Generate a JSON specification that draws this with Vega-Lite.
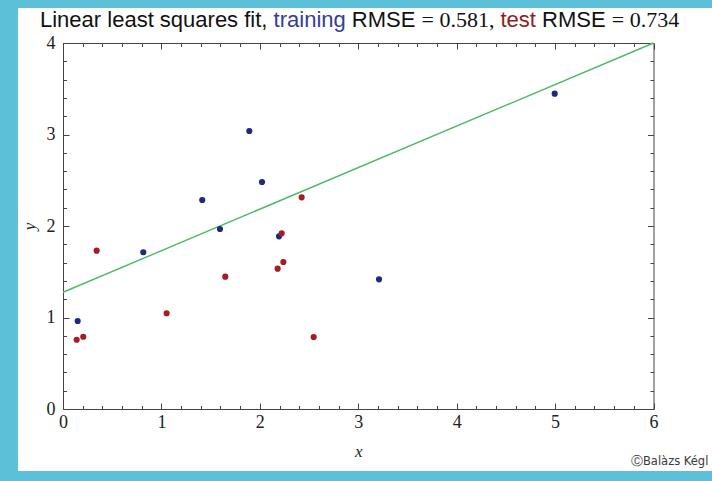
{
  "$schema": "https://vega.github.io/schema/vega-lite/v6.json",
  "width": 694,
  "height": 463,
  "autosize": {"type": "none"},
  "padding": {"left": 18, "top": 8, "right": 0, "bottom": 10},
  "background": "#5cc0d8",
  "config": {
    "view": {"fill": "white", "stroke": null},
    "axis": {
      "grid": false,
      "domainColor": "#444",
      "tickColor": "#444",
      "domainWidth": 1,
      "tickWidth": 1,
      "labelColor": "#222",
      "labelFont": "Liberation Serif",
      "labelFontSize": 18,
      "titleFont": "Liberation Serif",
      "titleFontStyle": "italic",
      "titleFontWeight": "normal",
      "titleFontSize": 17,
      "titleColor": "#222",
      "labelOverlap": false,
      "labelFlush": false
    }
  },
  "resolve": {"axis": {"x": "independent", "y": "independent"}},
  "layer": [
    {
      "data": {"values": [{"x": 0, "y": 1.276}, {"x": 6, "y": 4.0}]},
      "mark": {"type": "line", "color": "#4cba6a", "strokeWidth": 1.4, "clip": false},
      "encoding": {
        "x": {"field": "x", "type": "quantitative",
          "scale": {"domain": [0, 6], "range": [45, 635.5], "nice": false, "zero": false},
          "axis": {"orient": "top", "offset": -35, "values": [0, 1, 2, 3, 4, 5, 6], "tickSize": -6, "labels": false, "title": null, "domain": true}},
        "y": {"field": "y", "type": "quantitative",
          "scale": {"domain": [0, 4], "range": [401, 35], "nice": false, "zero": false},
          "axis": {"orient": "right", "offset": -58.5, "values": [0, 1, 2, 3, 4], "tickSize": -6, "labels": false, "title": null, "domain": true}}
      }
    },
    {
      "data": {"values": [
        {"x": 0.149, "y": 0.962, "set": "training"},
        {"x": 0.816, "y": 1.713, "set": "training"},
        {"x": 1.415, "y": 2.284, "set": "training"},
        {"x": 1.595, "y": 1.967, "set": "training"},
        {"x": 1.893, "y": 3.038, "set": "training"},
        {"x": 2.022, "y": 2.481, "set": "training"},
        {"x": 2.195, "y": 1.887, "set": "training"},
        {"x": 3.211, "y": 1.417, "set": "training"},
        {"x": 4.996, "y": 3.446, "set": "training"},
        {"x": 0.139, "y": 0.757, "set": "test"},
        {"x": 0.206, "y": 0.790, "set": "test"},
        {"x": 0.342, "y": 1.730, "set": "test"},
        {"x": 1.053, "y": 1.046, "set": "test"},
        {"x": 1.649, "y": 1.446, "set": "test"},
        {"x": 2.181, "y": 1.534, "set": "test"},
        {"x": 2.222, "y": 1.920, "set": "test"},
        {"x": 2.239, "y": 1.607, "set": "test"},
        {"x": 2.425, "y": 2.313, "set": "test"},
        {"x": 2.547, "y": 0.787, "set": "test"}
      ]},
      "mark": {"type": "circle", "size": 38, "opacity": 1, "clip": false},
      "encoding": {
        "x": {"field": "x", "type": "quantitative",
          "axis": {"orient": "bottom", "offset": -62, "values": [0, 1, 2, 3, 4, 5, 6], "tickSize": -6, "labelPadding": 10, "labelAngle": 0, "title": "x", "titlePadding": 12, "domain": true}},
        "y": {"field": "y", "type": "quantitative",
          "axis": {"orient": "left", "offset": -45, "values": [0, 1, 2, 3, 4], "tickSize": -6, "labelPadding": 14, "title": "y", "titlePadding": 8, "domain": true}},
        "color": {"field": "set", "type": "nominal",
          "scale": {"domain": ["training", "test"], "range": ["#1c2a82", "#a51d22"]}, "legend": null}
      }
    },
    {
      "data": {"values": [{}]},
      "mark": {"type": "text", "text": "Linear least squares fit,", "font": "Liberation Sans", "fontSize": 22, "color": "#111", "align": "left", "baseline": "alphabetic"},
      "encoding": {
        "x": {"datum": -0.2337, "type": "quantitative",
          "axis": {"orient": "bottom", "offset": -62, "values": [0.2, 0.4, 0.6, 0.8, 1.2, 1.4, 1.6, 1.8, 2.2, 2.4, 2.6, 2.8, 3.2, 3.4, 3.6, 3.8, 4.2, 4.4, 4.6, 4.8, 5.2, 5.4, 5.6, 5.8], "tickSize": -3.5, "labels": false, "title": null, "domain": false}},
        "y": {"datum": 4.175, "type": "quantitative",
          "axis": {"orient": "left", "offset": -45, "values": [0.2, 0.4, 0.6, 0.8, 1.2, 1.4, 1.6, 1.8, 2.2, 2.4, 2.6, 2.8, 3.2, 3.4, 3.6, 3.8], "tickSize": -3.5, "labels": false, "title": null, "domain": false}}
      }
    },
    {
      "data": {"values": [{}]},
      "mark": {"type": "text", "text": "training", "font": "Liberation Sans", "fontSize": 22, "color": "#333d96", "align": "left", "baseline": "alphabetic"},
      "encoding": {
        "x": {"datum": 2.140, "type": "quantitative",
          "axis": {"orient": "top", "offset": -35, "values": [0.2, 0.4, 0.6, 0.8, 1.2, 1.4, 1.6, 1.8, 2.2, 2.4, 2.6, 2.8, 3.2, 3.4, 3.6, 3.8, 4.2, 4.4, 4.6, 4.8, 5.2, 5.4, 5.6, 5.8], "tickSize": -3.5, "labels": false, "title": null, "domain": false}},
        "y": {"datum": 4.175, "type": "quantitative",
          "axis": {"orient": "right", "offset": -58.5, "values": [0.2, 0.4, 0.6, 0.8, 1.2, 1.4, 1.6, 1.8, 2.2, 2.4, 2.6, 2.8, 3.2, 3.4, 3.6, 3.8], "tickSize": -3.5, "labels": false, "title": null, "domain": false}}
      }
    },
    {
      "data": {"values": [{}]},
      "mark": {"type": "text", "text": "RMSE", "font": "Liberation Sans", "fontSize": 22, "color": "#111", "align": "left", "baseline": "alphabetic"},
      "encoding": {
        "x": {"datum": 2.934, "type": "quantitative", "axis": null},
        "y": {"datum": 4.175, "type": "quantitative", "axis": null}
      }
    },
    {
      "data": {"values": [{}]},
      "mark": {"type": "text", "text": "= 0.581,", "font": "Liberation Serif", "fontSize": 22, "color": "#111", "align": "left", "baseline": "alphabetic"},
      "encoding": {
        "x": {"datum": 3.643, "type": "quantitative", "axis": null},
        "y": {"datum": 4.175, "type": "quantitative", "axis": null}
      }
    },
    {
      "data": {"values": [{}]},
      "mark": {"type": "text", "text": "test", "font": "Liberation Sans", "fontSize": 22, "color": "#8e1f22", "align": "left", "baseline": "alphabetic"},
      "encoding": {
        "x": {"datum": 4.445, "type": "quantitative", "axis": null},
        "y": {"datum": 4.175, "type": "quantitative", "axis": null}
      }
    },
    {
      "data": {"values": [{}]},
      "mark": {"type": "text", "text": "RMSE", "font": "Liberation Sans", "fontSize": 22, "color": "#111", "align": "left", "baseline": "alphabetic"},
      "encoding": {
        "x": {"datum": 4.868, "type": "quantitative", "axis": null},
        "y": {"datum": 4.175, "type": "quantitative", "axis": null}
      }
    },
    {
      "data": {"values": [{}]},
      "mark": {"type": "text", "text": "= 0.734", "font": "Liberation Serif", "fontSize": 22, "color": "#111", "align": "left", "baseline": "alphabetic"},
      "encoding": {
        "x": {"datum": 5.576, "type": "quantitative", "axis": null},
        "y": {"datum": 4.175, "type": "quantitative", "axis": null}
      }
    },
    {
      "data": {"values": [{}]},
      "mark": {"type": "text", "text": "ⒸBalàzs Kégl", "font": "DejaVu Sans", "fontSize": 11.5, "fontWeight": 500, "color": "#3a3a3a", "align": "left", "baseline": "middle"},
      "encoding": {
        "x": {"datum": 5.771, "type": "quantitative", "axis": null},
        "y": {"datum": -0.579, "type": "quantitative", "axis": null}
      }
    }
  ]
}
